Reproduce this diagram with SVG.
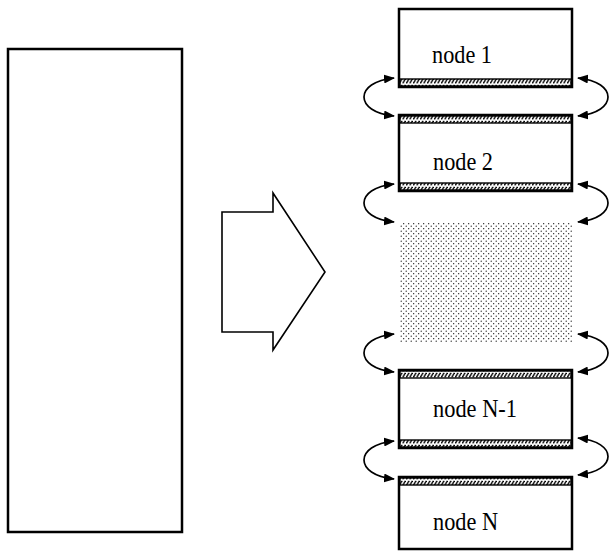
<svg xmlns="http://www.w3.org/2000/svg" width="612" height="552" viewBox="0 0 612 552">
<style>
.box{fill:#fff;stroke:#000;stroke-width:2.5}
.stripe{fill:url(#hatch);stroke:#000;stroke-width:1.4}
.lbl{font-family:"Liberation Serif","Times New Roman",serif;font-size:26px;fill:#000}
.link{fill:none;stroke:#000;stroke-width:1.7;marker-start:url(#ah);marker-end:url(#ah)}
</style>
<defs>
<pattern id="hatch" width="3.5" height="6" patternUnits="userSpaceOnUse">
<rect width="3.5" height="6" fill="#fff"/>
<path d="M0.3,5.5 L3,0.8" stroke="#000" stroke-width="1.4"/>
</pattern>
<pattern id="dots" width="5" height="5" patternUnits="userSpaceOnUse">
<circle cx="1.2" cy="1.2" r="0.6" fill="#000"/>
<circle cx="3.7" cy="3.7" r="0.6" fill="#000"/>
</pattern>
<marker id="ah" viewBox="0 0 11 9" refX="10" refY="4.5" markerWidth="11" markerHeight="9" markerUnits="userSpaceOnUse" orient="auto-start-reverse">
<path d="M0,0 L11,4.5 L0,9 Z" fill="#000"/>
</marker>
</defs>

<g id="source">
<rect class="box" x="8" y="49" width="174" height="483"/>
</g>

<g id="big-arrow">
<polygon points="222,212 273,212 273,193 325,272 273,350 273,332 222,332" fill="#fff" stroke="#000" stroke-width="1.6"/>
</g>

<g id="node1">
<rect class="box" x="399" y="9" width="173" height="78"/>
<rect class="stripe" x="400" y="79" width="171" height="7"/>
<text class="lbl" x="432" y="63" textLength="60" lengthAdjust="spacingAndGlyphs">node 1</text>
</g>

<g id="node2">
<rect class="box" x="399" y="115" width="173" height="76"/>
<rect class="stripe" x="400" y="116" width="171" height="7"/>
<rect class="stripe" x="400" y="183" width="171" height="7"/>
<text class="lbl" x="433" y="170" textLength="60" lengthAdjust="spacingAndGlyphs">node 2</text>
</g>

<g id="middle">
<rect x="400" y="222" width="173" height="121" fill="url(#dots)"/>
</g>

<g id="nodeN-1">
<rect class="box" x="399" y="370" width="173" height="78"/>
<rect class="stripe" x="400" y="371" width="171" height="7"/>
<rect class="stripe" x="400" y="440" width="171" height="7"/>
<text class="lbl" x="433" y="417" textLength="84" lengthAdjust="spacingAndGlyphs">node N-1</text>
</g>

<g id="nodeN">
<rect class="box" x="399" y="477" width="173" height="72"/>
<rect class="stripe" x="400" y="478" width="171" height="7"/>
<text class="lbl" x="433" y="530" textLength="65" lengthAdjust="spacingAndGlyphs">node N</text>
</g>

<g id="connectors">
<path class="link" d="M394,78 C354,82 354,112 394,116"/>
<path class="link" d="M578,78 C618,82 618,112 578,116"/>
<path class="link" d="M394,184 C354,188 354,218 394,222"/>
<path class="link" d="M578,184 C618,188 618,218 578,222"/>
<path class="link" d="M394,334 C354,338 354,368 394,372"/>
<path class="link" d="M578,334 C618,338 618,368 578,372"/>
<path class="link" d="M394,441 C354,445 354,475 394,479"/>
<path class="link" d="M578,438 C618,442 618,471 578,475"/>
</g>
</svg>
